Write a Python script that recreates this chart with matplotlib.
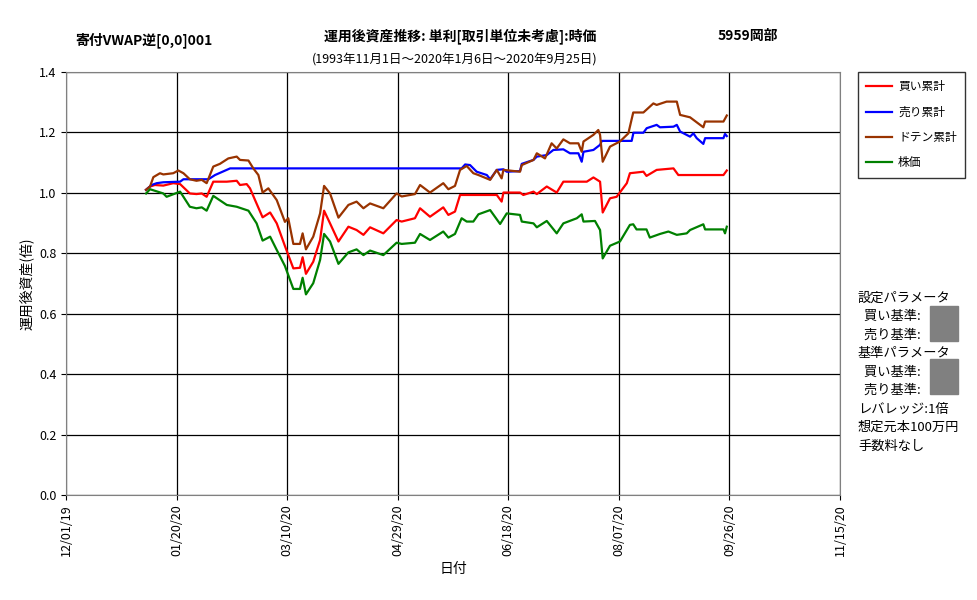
import numpy as np
import pandas as pd
import matplotlib
matplotlib.use("Agg")
import matplotlib.pyplot as plt
import matplotlib.dates as mdates
from matplotlib.patches import Rectangle

plt.rcParams['font.family'] = ['Noto Sans CJK JP', 'DejaVu Sans']

BASE = pd.Timestamp("2019-12-01")

# 日数は 2019/12/01 からの経過日
kabu_days = [36.2, 38, 44, 45.5, 51.6, 56, 59, 61.4, 63.6, 66.6, 72.7, 77.2, 82.5, 86.2, 88.9,
             92.3, 95.3, 99, 102.8, 105.8, 107, 108.5, 111.8, 114.9, 116.7, 119.4, 123.2,
             127.7, 131.4, 134.5, 137.5, 143.5, 149.5, 151.8, 157.8,
             160.1, 164.6, 170.6, 172.9, 175.9, 178.9, 181.2, 184.2, 186.5, 191.8, 196.3,
             199.3, 205.3, 206.1, 211.4, 212.9, 217.4, 221.9, 224.9, 231, 233.2, 234, 239.2,
             241.5, 242.7, 246, 250.5, 255, 256.5, 258, 262.5, 264, 268.6, 272.4, 276.2,
             280.7, 282.2, 288.2, 289, 297.3, 298, 298.8]
kabu_vals = [0.998, 1.012, 0.998, 0.987, 1.004, 0.954, 0.949, 0.952, 0.941, 0.990, 0.960,
             0.954, 0.941, 0.899, 0.842, 0.855, 0.811, 0.758, 0.682, 0.682, 0.719, 0.664,
             0.701, 0.778, 0.864, 0.839, 0.765, 0.803, 0.813, 0.794, 0.809, 0.794, 0.835,
             0.831, 0.835,
             0.864, 0.844, 0.872, 0.852, 0.864, 0.916, 0.905, 0.905, 0.929, 0.943, 0.897,
             0.932, 0.927, 0.905, 0.899, 0.886, 0.907, 0.866, 0.899, 0.916, 0.929, 0.905,
             0.907, 0.877, 0.783, 0.825, 0.839, 0.894, 0.896, 0.879, 0.879, 0.852, 0.864,
             0.872, 0.861, 0.866, 0.877, 0.896, 0.879, 0.879, 0.866, 0.888]

kai_days = [36.2, 38, 40.2, 44, 48.5, 51.6, 56, 59, 61.4, 63.6, 66.6, 72.7, 77.2, 78.7,
            81.7, 83.2, 85.5, 88.9, 92.3, 95.3, 99, 102.8, 105.8, 107, 108.5, 111.8, 114.9,
            116.7, 119.4, 123.2, 127.7, 131.4, 134.5, 137.5, 143.5, 149.5, 151.8, 157.8,
            160.1, 164.6, 170.6, 172.9, 175.9, 178.2, 194.8, 197.0, 197.8, 205.3, 206.8,
            211.4, 212.9, 217.4, 221.9, 224.9, 235.5, 238.5, 241.5, 242.7, 246, 249.0,
            253.6, 255, 261.1, 262.5, 267.1, 274.7, 276.9, 297.3, 298.8]
kai_vals = [1.010, 1.021, 1.026, 1.024, 1.032, 1.029, 0.998, 0.996, 0.998, 0.987, 1.037,
            1.037, 1.040, 1.026, 1.029, 1.015, 0.976, 0.919, 0.935, 0.899, 0.824, 0.750,
            0.752, 0.787, 0.732, 0.772, 0.844, 0.941, 0.899, 0.839, 0.888, 0.877, 0.861,
            0.886, 0.866, 0.910, 0.905, 0.916,
            0.949, 0.921, 0.952, 0.927, 0.938, 0.993, 0.993, 0.971, 1.001, 1.001, 0.993,
            1.004, 0.996, 1.021, 1.001, 1.037, 1.037, 1.051, 1.037, 0.935, 0.982, 0.987,
            1.032, 1.065, 1.070, 1.056, 1.076, 1.081, 1.059, 1.059, 1.074]

uri_days = [36.2, 38.7, 41, 44, 51.6, 53.1, 64.4, 67.4, 74.2,
            160.1, 178.9, 180.5, 182.7, 185.7, 190.3, 191.8, 194.8, 197.8, 199.3, 205.3,
            206.1, 211.4, 212.9, 217.4, 220.4, 224.9, 227.9, 231.7, 233.2, 234, 238.5,
            241.5, 242.3, 255.8, 256.6, 261.1, 262.6, 267.1, 268.6, 274.7, 276.2, 277.7,
            282.2, 283.7, 285.2, 288.2, 289, 297.3, 298, 298.8]
uri_vals = [1.010, 1.026, 1.032, 1.035, 1.037, 1.045, 1.045, 1.059, 1.081,
            1.081, 1.081, 1.094, 1.092, 1.070, 1.059, 1.045, 1.076, 1.078, 1.070, 1.072,
            1.096, 1.109, 1.120, 1.125, 1.142, 1.144, 1.131, 1.131, 1.103, 1.136, 1.142,
            1.159, 1.172, 1.172, 1.199, 1.199, 1.214, 1.225, 1.217, 1.219, 1.225, 1.203,
            1.186, 1.197, 1.181, 1.162, 1.181, 1.181, 1.195, 1.188]

doten_days = [36.2, 38, 39.5, 42.5, 44, 48.5, 50.8, 53.1, 56, 59, 61.4, 63.6, 66.6, 69.6,
              73.4, 77.2, 78.7, 82.5, 84.7, 87, 88.9, 91.5, 95.3, 99, 100.5, 102.8, 105.8,
              107, 108.5, 111.8, 114.9, 116.7, 119.4, 123.2, 127.7, 131.4, 134.5, 137.5,
              143.5, 149.5, 151.8, 157.8,
              160.1, 164.6, 170.6, 172.9, 175.9, 178.2, 181.2, 184.2, 186.5, 191.8, 194.8,
              197.0, 197.8, 205.3, 206.1, 211.4, 212.9, 216.6, 219.6, 221.9, 224.9, 227.9,
              231.7, 233.2, 234, 238.5, 240.7, 241.5, 242.7, 246, 250.5, 254.3, 256.5,
              261.1, 265.6, 267.1, 271.6, 276.2, 277.7, 282.2, 288.2, 289, 297.3, 298.8]
doten_vals = [1.010, 1.021, 1.052, 1.065, 1.061, 1.065, 1.074, 1.065, 1.045, 1.040, 1.043,
              1.032, 1.087, 1.096, 1.114, 1.120, 1.109, 1.107, 1.081, 1.059, 1.001, 1.015,
              0.976, 0.904, 0.916, 0.831, 0.831, 0.866, 0.813, 0.855, 0.932, 1.023, 0.998,
              0.918, 0.960, 0.971, 0.949, 0.965, 0.949, 0.998, 0.988, 0.996,
              1.026, 1.001, 1.032, 1.012, 1.023, 1.076, 1.089, 1.065, 1.059, 1.043, 1.076,
              1.048, 1.076, 1.070, 1.092, 1.109, 1.131, 1.114, 1.164, 1.147, 1.177, 1.164,
              1.164, 1.136, 1.170, 1.192, 1.208, 1.192, 1.103, 1.153, 1.170, 1.197, 1.266,
              1.266, 1.296, 1.291, 1.302, 1.302, 1.258, 1.250, 1.217, 1.236, 1.236, 1.256]

series = [
    ("買い累計", kai_days, kai_vals, "#ff0000"),
    ("売り累計", uri_days, uri_vals, "#0000ff"),
    ("ドテン累計", doten_days, doten_vals, "#993300"),
    ("株価", kabu_days, kabu_vals, "#008000"),
]

fig = plt.figure(figsize=(9.77, 6.0), dpi=100)
ax = fig.add_axes([66 / 977, 105 / 600, 774 / 977, 423 / 600])

for name, days, vals, color in series:
    dates = BASE + pd.to_timedelta(days, unit="D")
    ax.plot(dates, vals, color=color, lw=1.6, label=name)

ticks = [BASE + pd.Timedelta(days=50 * i) for i in range(8)]
ax.set_xticks(ticks)
ax.xaxis.set_major_formatter(mdates.DateFormatter("%m/%d/%y"))
ax.set_xlim(ticks[0], ticks[-1])
ax.set_ylim(0, 1.4)
ax.set_yticks(np.arange(0, 1.41, 0.2))
ax.set_yticklabels([f"{v:.1f}" for v in np.arange(0, 1.41, 0.2)])
ax.grid(True, color="black", lw=0.9)
ax.tick_params(axis="x", rotation=90, labelsize=9)
ax.tick_params(axis="y", labelsize=9)
for s in ax.spines.values():
    s.set_color("#808080")
ax.set_xlabel("日付", fontsize=10)
ax.set_ylabel("運用後資産(倍)", fontsize=10)

leg = ax.legend(loc="upper left", bbox_to_anchor=((858 - 66) / 774, 1.0), borderaxespad=0,
                frameon=True, fancybox=False, edgecolor="black", fontsize=8.5,
                handlelength=2.2, handletextpad=0.5, labelspacing=1.05, borderpad=0.7)
leg.get_frame().set_linewidth(1.0)

fig.text(75 / 977, 1 - 40 / 600, "寄付VWAP逆[0,0]001", fontsize=10, fontweight="bold", va="center")
fig.text(460 / 977, 1 - 36 / 600, "運用後資産推移: 単利[取引単位未考慮]:時価", fontsize=10,
         fontweight="bold", ha="center", va="center")
fig.text(748 / 977, 1 - 36 / 600, "5959岡部", fontsize=10, fontweight="bold", ha="center", va="center")
fig.text(455 / 977, 1 - 60 / 600, "(1993年11月1日～2020年1月6日～2020年9月25日)", fontsize=9,
         ha="center", va="center")

lines = ["設定パラメータ", "  買い基準:", "  売り基準:",
         "基準パラメータ", "  買い基準:", "  売り基準:",
         "レバレッジ:1倍", "想定元本100万円", "手数料なし"]
for i, t in enumerate(lines):
    fig.text(858 / 977, 1 - (298 + i * 18.5) / 600, t, fontsize=9.5, va="center")
for y0 in (306, 359):
    fig.patches.append(Rectangle((930 / 977, 1 - (y0 + 35) / 600), 28 / 977, 35 / 600,
                                 transform=fig.transFigure, color="#808080"))

fig.savefig("out.png", dpi=100)
